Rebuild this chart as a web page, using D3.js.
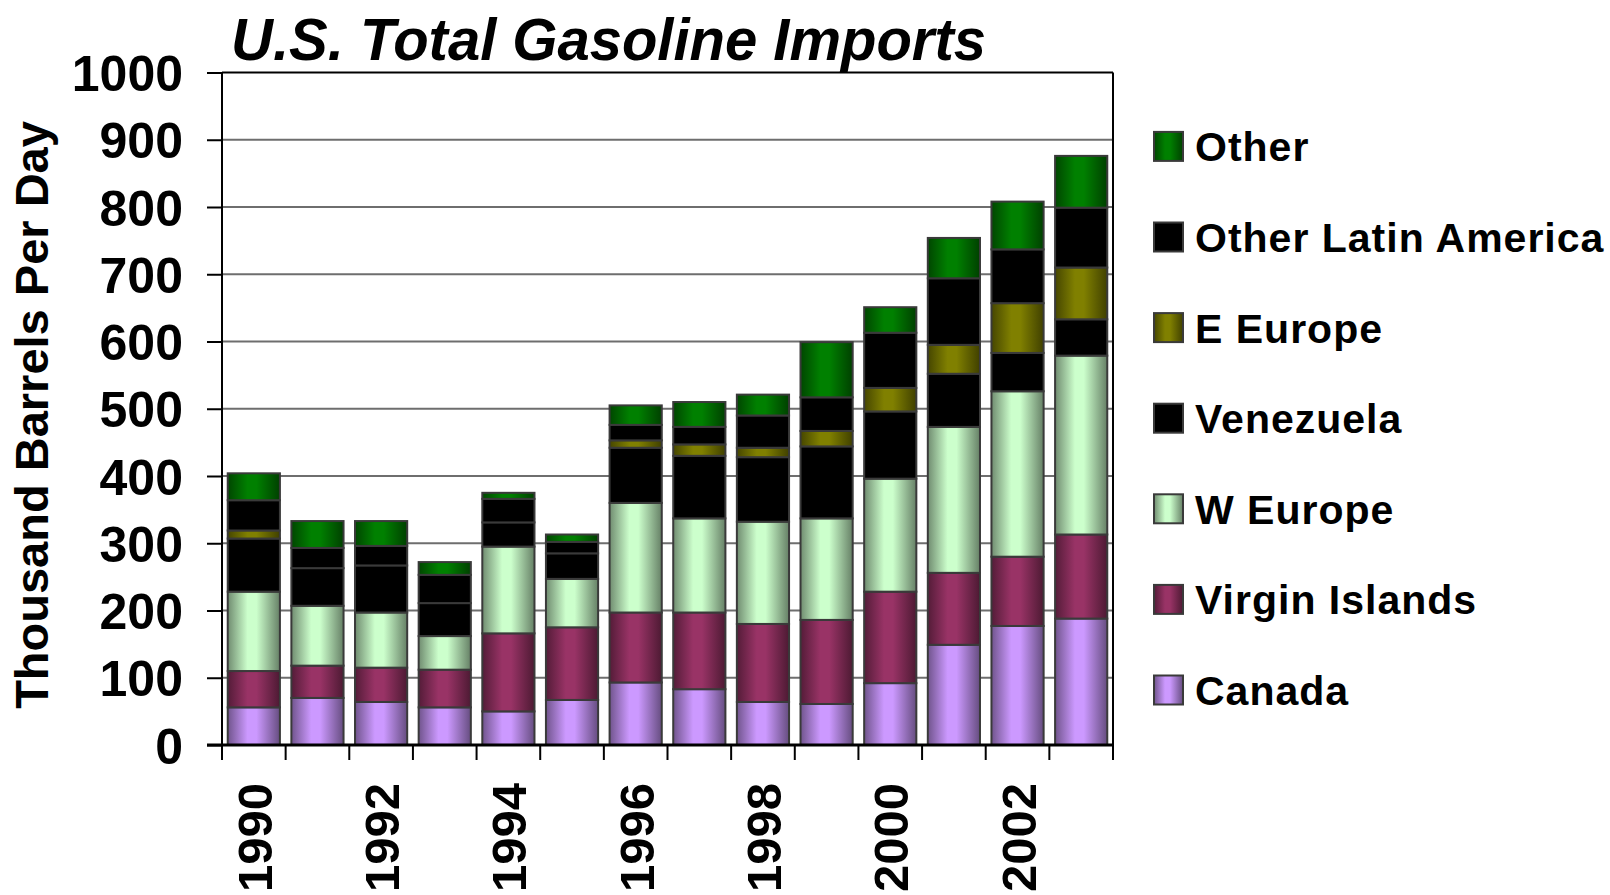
<!DOCTYPE html>
<html>
<head>
<meta charset="utf-8">
<script src="https://cdn.jsdelivr.net/npm/d3@7"></script>
<style>
  html, body { margin: 0; padding: 0; background: #fff; }
  svg { display: block; }
  text { font-family: "Liberation Sans", Arial, sans-serif; font-weight: bold; fill: #000; }
</style>
</head>
<body>
<svg id="chart" width="1610" height="895"></svg>
<script>
// ---- Data (thousand barrels per day) ----
const years = [1990, 1991, 1992, 1993, 1994, 1995, 1996, 1997, 1998, 1999, 2000, 2001, 2002, 2003];
const canada        = [56, 70, 64, 56, 50, 67, 93, 83, 64, 61, 92, 149, 177, 188];
const virginIslands = [54, 48, 51, 56, 116, 108, 104, 114, 116, 125, 136, 107, 103, 125];
const wEurope       = [118, 89, 82, 50, 129, 72, 163, 140, 152, 151, 168, 217, 246, 266];
const venezuela     = [79, 56, 70, 49, 36, 38, 82, 93, 96, 107, 100, 79, 57, 54];
const eEurope       = [12, 0, 0, 0, 0, 0, 11, 17, 14, 23, 35, 43, 74, 77];
const otherLatAm    = [45, 30, 29, 42, 35, 17, 23, 26, 48, 50, 82, 99, 80, 89];
const other         = [40, 40, 37, 19, 9, 11, 29, 37, 31, 82, 38, 60, 71, 77];

const seriesNames  = ["Canada", "Virgin Islands", "W Europe", "Venezuela", "E Europe", "Other Latin America", "Other"];
const seriesValues = [canada, virginIslands, wEurope, venezuela, eEurope, otherLatAm, other];
const seriesColors = ["#cc99ff", "#993366", "#ccffcc", "#000000", "#808000", "#000000", "#008000"];
const yTicks = [0, 100, 200, 300, 400, 500, 600, 700, 800, 900, 1000];
const xLabelYears = [1990, 1992, 1994, 1996, 1998, 2000, 2002];

// ---- Layout ----
const svg = d3.select("#chart");
const plot = { left: 222, right: 1113, top: 72.5, bottom: 745 };

const x = d3.scaleBand().domain(years).range([plot.left, plot.right])
  .paddingInner(0.18).paddingOuter(0.09);
const y = d3.scaleLinear().domain([0, 1000]).range([plot.bottom, plot.top]);

// gradients (cylinder-like horizontal shading)
const defs = svg.append("defs");
seriesColors.forEach((c, i) => {
  const g = defs.append("linearGradient").attr("id", "grad" + i)
    .attr("x1", "0%").attr("x2", "100%").attr("y1", "0%").attr("y2", "0%");
  const dark = d3.interpolateRgb(c, "#000")(0.45);
  const darkR = d3.interpolateRgb(c, "#000")(0.5);
  g.append("stop").attr("offset", "0%").attr("stop-color", dark);
  g.append("stop").attr("offset", "38%").attr("stop-color", c);
  g.append("stop").attr("offset", "55%").attr("stop-color", c);
  g.append("stop").attr("offset", "100%").attr("stop-color", darkR);
});

// gridlines
svg.append("g").selectAll("line").data(yTicks.filter(t => t > 0 && t < 1000)).join("line")
  .attr("x1", plot.left).attr("x2", plot.right)
  .attr("y1", d => y(d)).attr("y2", d => y(d))
  .attr("stroke", "#6e6e6e").attr("stroke-width", 2);

// plot border (top and right)
svg.append("line").attr("x1", plot.left).attr("x2", plot.right).attr("y1", plot.top).attr("y2", plot.top)
  .attr("stroke", "#000").attr("stroke-width", 2);
svg.append("line").attr("x1", plot.right).attr("x2", plot.right).attr("y1", plot.top).attr("y2", plot.bottom)
  .attr("stroke", "#000").attr("stroke-width", 2);

// stacked bars
const table = years.map((yr, i) => {
  const row = { year: yr };
  seriesNames.forEach((n, k) => row[n] = seriesValues[k][i]);
  return row;
});
const stacked = d3.stack().keys(seriesNames)(table);

svg.append("g").selectAll("g").data(stacked).join("g")
  .attr("fill", (d, i) => `url(#grad${i})`)
  .selectAll("rect").data(d => d.filter(s => s[1] - s[0] > 0)).join("rect")
  .attr("x", d => x(d.data.year))
  .attr("width", x.bandwidth())
  .attr("y", d => y(d[1]))
  .attr("height", d => y(d[0]) - y(d[1]))
  .attr("stroke", "#3a3a3a").attr("stroke-width", 2);

// y axis
const yAxis = d3.axisLeft(y).tickValues(yTicks).tickFormat(d3.format("d")).tickSize(15).tickPadding(24);
const gy = svg.append("g").attr("transform", `translate(${plot.left},0)`).call(yAxis);
gy.select(".domain").attr("stroke", "#000").attr("stroke-width", 2)
  .attr("d", `M0,${plot.top}V${plot.bottom + 15}`);
gy.selectAll(".tick line").attr("stroke", "#000").attr("stroke-width", 2);
gy.selectAll(".tick text").attr("font-size", 50).attr("font-family", "Liberation Sans, Arial, sans-serif")
  .attr("font-weight", "bold").attr("fill", "#000").attr("dy", "0.36em");

// x axis line and boundary ticks
svg.append("line").attr("x1", plot.left - 15).attr("x2", plot.right).attr("y1", plot.bottom).attr("y2", plot.bottom)
  .attr("stroke", "#000").attr("stroke-width", 3);
const boundaries = d3.range(years.length + 1).map(i => plot.left + i * x.step());
svg.append("g").selectAll("line").data(boundaries).join("line")
  .attr("x1", d => d).attr("x2", d => d)
  .attr("y1", plot.bottom).attr("y2", plot.bottom + 15)
  .attr("stroke", "#000").attr("stroke-width", 2);

// x labels (rotated)
svg.append("g").selectAll("text").data(xLabelYears).join("text")
  .attr("transform", d => `translate(${x(d) + x.bandwidth() / 2 + 18},783) rotate(-90)`)
  .attr("text-anchor", "end")
  .attr("font-size", 49)
  .text(d => d);

// y axis title
svg.append("text")
  .attr("transform", `translate(48,415) rotate(-90)`)
  .attr("text-anchor", "middle")
  .attr("font-size", 47)
  .text("Thousand Barrels Per Day");

// title
svg.append("text")
  .attr("x", 231).attr("y", 60)
  .attr("font-size", 60)
  .attr("font-style", "italic")
  .attr("textLength", 755).attr("lengthAdjust", "spacingAndGlyphs")
  .text("U.S. Total Gasoline Imports");

// legend (reverse order: Other at top)
const legendOrder = d3.range(seriesNames.length).reverse();
const lg = svg.append("g").selectAll("g").data(legendOrder).join("g")
  .attr("transform", (d, i) => `translate(1154,${146.4 + i * 90.6})`);
lg.append("rect").attr("x", 0).attr("y", -14.5).attr("width", 29).attr("height", 29)
  .attr("fill", d => `url(#grad${d})`).attr("stroke", "#3a3a3a").attr("stroke-width", 2);
lg.append("text").attr("x", 41).attr("y", 15)
  .attr("font-size", 41).attr("letter-spacing", 1)
  .text(d => seriesNames[d]);
</script>
</body>
</html>
